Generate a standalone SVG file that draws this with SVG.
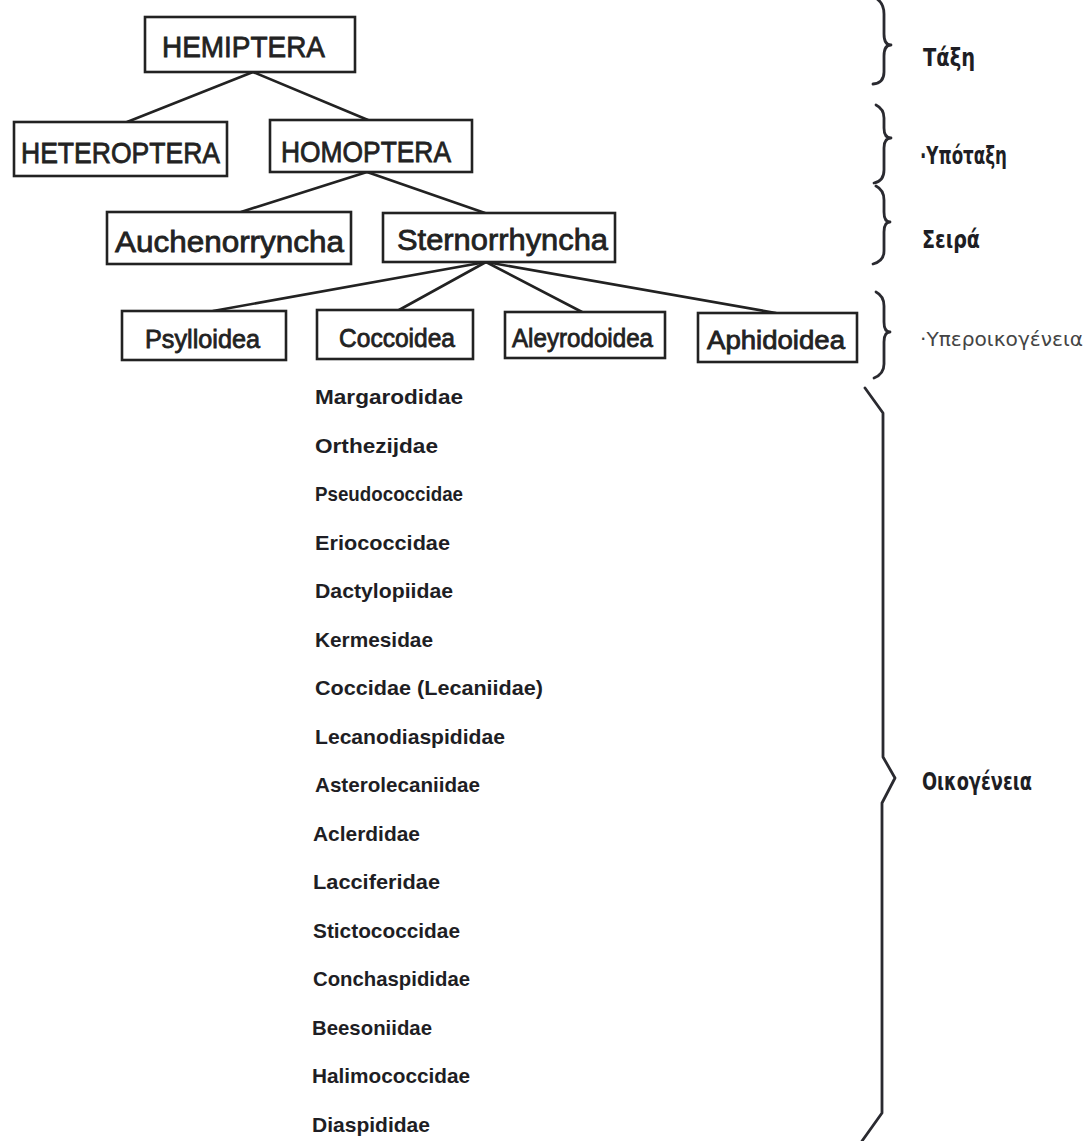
<svg xmlns="http://www.w3.org/2000/svg" width="1084" height="1141" viewBox="0 0 1084 1141">
<style>
.bg{fill:#ffffff}
.box{fill:#ffffff;stroke:#222;stroke-width:2.6}
.nt{font-family:"Liberation Sans",Arial,sans-serif;fill:#222;stroke:#222;stroke-width:0.8}
.big{font-size:30px}
.mid{font-size:26px}
.fam{font-family:"Liberation Sans",Arial,sans-serif;font-weight:bold;font-size:21px;fill:#1e1e24}
.lvl{font-family:"DejaVu Sans","Liberation Sans",sans-serif;font-weight:bold;font-size:24px;fill:#1e1e24}
.lvl2{font-family:"DejaVu Sans","Liberation Sans",sans-serif;font-size:19px;fill:#444}
.ln{stroke:#222;stroke-width:2.6;fill:none;stroke-linecap:round}
.br{stroke:#2a2a30;stroke-width:2.8;fill:none;stroke-linejoin:round;stroke-linecap:round}
</style>
<rect class="bg" x="0" y="0" width="1084" height="1141"/>

<g id="connectors">
<line class="ln" x1="253" y1="72" x2="127" y2="122"/>
<line class="ln" x1="253" y1="72" x2="368" y2="120"/>
<line class="ln" x1="367" y1="172" x2="241" y2="212"/>
<line class="ln" x1="367" y1="172" x2="485" y2="213"/>
<line class="ln" x1="486" y1="262" x2="213" y2="311"/>
<line class="ln" x1="486" y1="262" x2="399" y2="310"/>
<line class="ln" x1="486" y1="262" x2="582" y2="312"/>
<line class="ln" x1="486" y1="262" x2="776" y2="313"/>
</g>

<g id="node-hemiptera">
<rect class="box" x="145" y="17" width="210" height="55"/>
<text class="nt big" x="162" y="57" textLength="163" lengthAdjust="spacingAndGlyphs">HEMIPTERA</text>
</g>
<g id="node-heteroptera">
<rect class="box" x="14" y="122" width="213" height="54"/>
<text class="nt big" x="21" y="163" textLength="199" lengthAdjust="spacingAndGlyphs">HETEROPTERA</text>
</g>
<g id="node-homoptera">
<rect class="box" x="270" y="120" width="202" height="52"/>
<text class="nt big" x="281" y="162" textLength="170" lengthAdjust="spacingAndGlyphs">HOMOPTERA</text>
</g>
<g id="node-auchenorryncha">
<rect class="box" x="107" y="212" width="244" height="52"/>
<text class="nt big" x="115" y="252" textLength="229" lengthAdjust="spacingAndGlyphs">Auchenorryncha</text>
</g>
<g id="node-sternorrhyncha">
<rect class="box" x="383" y="213" width="232" height="49"/>
<text class="nt big" x="397" y="250" textLength="211" lengthAdjust="spacingAndGlyphs">Sternorrhyncha</text>
</g>
<g id="node-psylloidea">
<rect class="box" x="122" y="311" width="164" height="49"/>
<text class="nt mid" x="145" y="348" textLength="115" lengthAdjust="spacingAndGlyphs">Psylloidea</text>
</g>
<g id="node-coccoidea">
<rect class="box" x="317" y="310" width="156" height="49"/>
<text class="nt mid" x="339" y="347" textLength="116" lengthAdjust="spacingAndGlyphs">Coccoidea</text>
</g>
<g id="node-aleyrodoidea">
<rect class="box" x="505" y="312" width="160" height="46"/>
<text class="nt mid" x="512" y="347" textLength="141" lengthAdjust="spacingAndGlyphs">Aleyrodoidea</text>
</g>
<g id="node-aphidoidea">
<rect class="box" x="698" y="313" width="159" height="49"/>
<text class="nt mid" x="707" y="349" textLength="138" lengthAdjust="spacingAndGlyphs">Aphidoidea</text>
</g>

<g id="families">
<text class="fam" x="315" y="404" textLength="148" lengthAdjust="spacingAndGlyphs">Margarodidae</text>
<text class="fam" x="315" y="452.5" textLength="123" lengthAdjust="spacingAndGlyphs">Orthezijdae</text>
<text class="fam" x="315" y="501" textLength="148" lengthAdjust="spacingAndGlyphs">Pseudococcidae</text>
<text class="fam" x="315" y="549.5" textLength="135" lengthAdjust="spacingAndGlyphs">Eriococcidae</text>
<text class="fam" x="315" y="598" textLength="138" lengthAdjust="spacingAndGlyphs">Dactylopiidae</text>
<text class="fam" x="315" y="646.5" textLength="118" lengthAdjust="spacingAndGlyphs">Kermesidae</text>
<text class="fam" x="315" y="695" textLength="228" lengthAdjust="spacingAndGlyphs">Coccidae (Lecaniidae)</text>
<text class="fam" x="315" y="743.5" textLength="190" lengthAdjust="spacingAndGlyphs">Lecanodiaspididae</text>
<text class="fam" x="315" y="792" textLength="165" lengthAdjust="spacingAndGlyphs">Asterolecaniidae</text>
<text class="fam" x="313" y="840.5" textLength="107" lengthAdjust="spacingAndGlyphs">Aclerdidae</text>
<text class="fam" x="313" y="889" textLength="127" lengthAdjust="spacingAndGlyphs">Lacciferidae</text>
<text class="fam" x="313" y="937.5" textLength="147" lengthAdjust="spacingAndGlyphs">Stictococcidae</text>
<text class="fam" x="313" y="986" textLength="157" lengthAdjust="spacingAndGlyphs">Conchaspididae</text>
<text class="fam" x="312" y="1034.5" textLength="120" lengthAdjust="spacingAndGlyphs">Beesoniidae</text>
<text class="fam" x="312" y="1083" textLength="158" lengthAdjust="spacingAndGlyphs">Halimococcidae</text>
<text class="fam" x="312" y="1131.5" textLength="118" lengthAdjust="spacingAndGlyphs">Diaspididae</text>
</g>

<g id="braces">
<path class="br" d="M874,-3 Q884,2 884,14 L884,34 Q884,45 891,45 Q884,45 884,56 L884,72 Q884,83 873,84"/>
<path class="br" d="M876,105 Q884,109 884,118 L884,128 Q884,138 891,138 Q884,138 884,148 L884,170 Q884,181 874,183"/>
<path class="br" d="M876,186 Q884,190 884,200 L884,212 Q884,222 890,222 Q884,222 884,232 L884,251 Q884,261 873,264"/>
<path class="br" d="M876,292 Q884,296 884,306 L884,322 Q884,332 890,332 Q884,332 884,342 L884,364 Q884,374 874,378"/>
<path class="br" d="M865,388 L883,413 L883,757 L895,778 L882,803 L882,1113 L862,1141"/>
</g>

<g id="levels">
<text class="lvl" x="923" y="66" textLength="52" lengthAdjust="spacingAndGlyphs">Τάξη</text>
<text class="lvl" x="920" y="164" textLength="87" lengthAdjust="spacingAndGlyphs">·Υπόταξη</text>
<text class="lvl" x="922" y="248" textLength="58" lengthAdjust="spacingAndGlyphs">Σειρά</text>
<text class="lvl2" x="920" y="346" textLength="163" lengthAdjust="spacingAndGlyphs">·Υπεροικογένεια</text>
<text class="lvl" x="922" y="790" textLength="110" lengthAdjust="spacingAndGlyphs">Οικογένεια</text>
</g>
</svg>
